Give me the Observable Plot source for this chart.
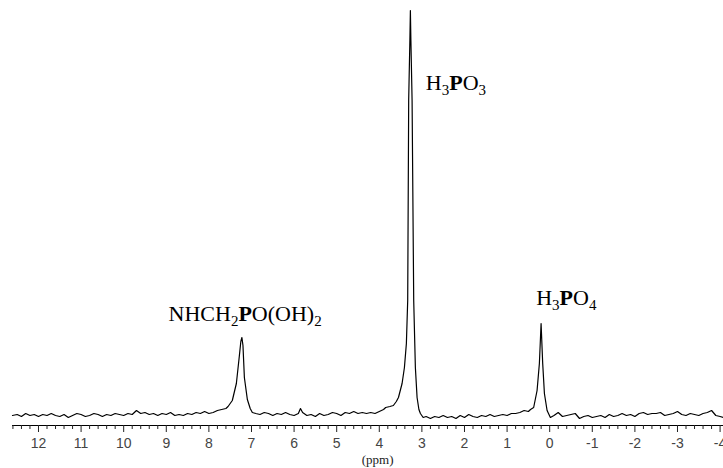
<!DOCTYPE html>
<html>
<head>
<meta charset="utf-8">
<script src="https://cdn.jsdelivr.net/npm/d3@7"></script>
<script src="https://cdn.jsdelivr.net/npm/@observablehq/plot@0.6"></script>
<style>
  html, body { margin: 0; padding: 0; background: #fff; }
  #chart svg { display: block; }
</style>
</head>
<body>
<div id="chart"></div>
<script>
// 31P NMR spectrum: chemical shift (ppm) and signal intensity (arbitrary units)
const ppm = [
  12.61, 12.5, 12.4, 12.3, 12.2, 12.1, 12.0, 11.9, 11.8, 11.7, 11.6, 11.5, 11.4, 11.3, 11.2, 11.1, 11.0,
  10.9, 10.8, 10.7, 10.6, 10.5, 10.4, 10.3, 10.2, 10.1, 10.0, 9.9, 9.8, 9.7, 9.6, 9.5, 9.4, 9.3, 9.2, 9.1, 9.0,
  8.9, 8.8, 8.7, 8.6, 8.5, 8.4, 8.3, 8.2, 8.1, 8.0, 7.9, 7.8, 7.7, 7.6, 7.55, 7.45, 7.355, 7.284, 7.25, 7.225,
  7.2, 7.167, 7.097, 7.03, 6.98, 6.9, 6.8, 6.7, 6.6, 6.5, 6.4, 6.3, 6.2, 6.1, 6.0, 5.9, 5.85, 5.8, 5.7, 5.6,
  5.5, 5.4, 5.3, 5.2, 5.1, 5.0, 4.9, 4.8, 4.7, 4.6, 4.5, 4.4, 4.3, 4.2, 4.1, 4.0, 3.9, 3.85, 3.75, 3.67, 3.6,
  3.55, 3.465, 3.41, 3.364, 3.333, 3.31, 3.282, 3.27, 3.258, 3.23, 3.192, 3.153, 3.113, 3.07, 3.035, 2.97,
  2.9, 2.8, 2.7, 2.6, 2.5, 2.4, 2.3, 2.2, 2.1, 2.0, 1.9, 1.8, 1.7, 1.6, 1.5, 1.4, 1.3, 1.2, 1.1, 1.0, 0.9, 0.8,
  0.7, 0.6, 0.5, 0.45, 0.376, 0.296, 0.242, 0.202, 0.164, 0.124, 0.061, -0.016, -0.1, -0.2, -0.3, -0.4, -0.5,
  -0.6, -0.7, -0.8, -0.9, -1.0, -1.1, -1.2, -1.3, -1.4, -1.5, -1.6, -1.7, -1.8, -1.9, -2.0, -2.1, -2.2, -2.3,
  -2.4, -2.5, -2.6, -2.7, -2.8, -2.9, -3.0, -3.1, -3.2, -3.3, -3.4, -3.5, -3.6, -3.7, -3.8, -3.9, -4.0, -4.08
];
const intensity = [
  10, 11, 9, 12, 10, 11, 9, 11, 10, 12, 10, 9, 11, 8, 10, 12, 11,
  9, 10, 12, 11, 9, 11, 10, 12, 11, 10, 12, 11, 15, 12, 13, 11, 12, 10, 12, 11,
  13, 10, 11, 10, 12, 11, 13, 12, 14, 12, 13, 15, 16, 17, 19, 25, 42, 70, 84, 88,
  80, 48, 26, 17, 13, 12, 11, 13, 12, 10, 12, 11, 13, 11, 10, 12, 17, 13, 10, 11,
  9, 12, 10, 11, 13, 12, 10, 13, 12, 14, 12, 13, 12, 13, 12, 14, 16, 18, 19, 20, 24,
  28, 42, 58, 82, 125, 325, 385, 415, 385, 325, 125, 58, 28, 16, 12, 8,
  9, 7, 9, 8, 10, 8, 9, 7, 10, 8, 11, 9, 8, 10, 9, 11, 9, 10, 11, 10, 12, 12,
  13, 15, 14, 16, 18, 35, 62, 102, 62, 32, 15, 8, 10, 13, 9, 10, 11,
  12, 7, 9, 10, 8, 9, 10, 8, 11, 9, 10, 12, 10, 11, 9, 12, 13, 11,
  12, 12, 13, 10, 11, 12, 14, 11, 10, 12, 11, 10, 12, 13, 15, 10, 9, 8
];

// Peak assignments
const labelText = ["NHCH2PO(OH)2", "H3PO3", "H3PO4"];
const labelPpm = [7.15, 2.2, -0.39];
const labelInt = [112, 343, 128];

// Axis
const majorTicks = [12, 11, 10, 9, 8, 7, 6, 5, 4, 3, 2, 1, 0, -1, -2, -3, -4];
const minorTicks = d3.range(-40, 127, 2).filter(d => d % 10 !== 0).map(d => d / 10);
const axisTitle = "(ppm)";
const axisTitlePpm = 4.04;
const axisTitleInt = -34;

const spectrum = ppm.map((p, i) => ({ppm: p, intensity: intensity[i]}));
const labels = labelText.map((t, i) => ({text: t, ppm: labelPpm[i], intensity: labelInt[i]}));

const chart = Plot.plot({
  width: 723,
  height: 468,
  marginTop: 0,
  marginBottom: 43,
  marginLeft: 12,
  marginRight: 0,
  style: {background: "#fff", overflow: "visible"},
  x: {domain: [12.61, -4.08], axis: null},
  y: {domain: [0, 425], axis: null},
  marks: [
    Plot.ruleY([0], {stroke: "#000", strokeWidth: 1}),
    Plot.axisX({
      ticks: minorTicks, tickSize: 4, text: null, label: null,
      stroke: "#222", strokeWidth: 1
    }),
    Plot.axisX({
      ticks: majorTicks, tickSize: 7, tickPadding: 6,
      tickFormat: d => String(d),
      stroke: "#222", strokeWidth: 1,
      fill: "#444", fontSize: 14, fontFamily: "Liberation Sans",
      label: null
    }),
    Plot.line(spectrum, {x: "ppm", y: "intensity", stroke: "#000", strokeWidth: 1.2, curve: "linear"}),
    Plot.text(labels, {
      x: "ppm", y: "intensity", text: "text",
      fontFamily: "Liberation Serif", fontSize: 22, fill: "#000",
      textAnchor: "middle", lineAnchor: "middle"
    }),
    Plot.text([axisTitle], {
      x: [axisTitlePpm], y: [axisTitleInt], text: d => d,
      fontFamily: "Liberation Serif", fontSize: 13, fill: "#222",
      textAnchor: "middle", lineAnchor: "middle"
    })
  ]
});

// Chemical-formula styling: digits as subscripts, phosphorus in bold
const ns = "http://www.w3.org/2000/svg";
chart.querySelectorAll("text").forEach(t => {
  if (!labelText.includes(t.textContent)) return;
  const s = t.textContent;
  t.textContent = "";
  let shift = 0;
  for (const ch of s) {
    const ts = document.createElementNS(ns, "tspan");
    const sub = /\d/.test(ch);
    const target = sub ? 5 : 0;
    if (target !== shift) { ts.setAttribute("dy", target - shift); shift = target; }
    if (sub) ts.setAttribute("font-size", "15");
    if (ch === "P") ts.setAttribute("font-weight", "bold");
    ts.textContent = ch;
    t.appendChild(ts);
  }
});

document.getElementById("chart").appendChild(chart);
</script>
</body>
</html>
